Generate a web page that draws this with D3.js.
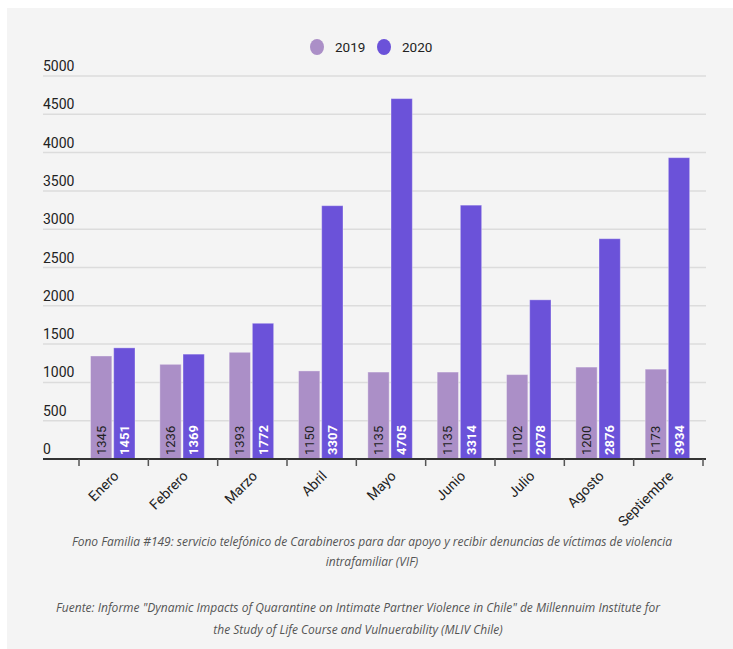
<!DOCTYPE html>
<html>
<head>
<meta charset="utf-8">
<script src="https://cdn.jsdelivr.net/npm/d3@7"></script>
<style>
  body { margin: 0; background: #fff; }
  svg text { font-family: Roboto, "Noto Sans", sans-serif; }
</style>
</head>
<body>
<div id="chart"></div>
<script>
// data
const months = ["Enero", "Febrero", "Marzo", "Abril", "Mayo", "Junio", "Julio", "Agosto", "Septiembre"];
const years = ["2019", "2020"];
const values2019 = [1345, 1236, 1393, 1150, 1135, 1135, 1102, 1200, 1173];
const values2020 = [1451, 1369, 1772, 3307, 4705, 3314, 2078, 2876, 3934];
const yTicks = [0, 500, 1000, 1500, 2000, 2500, 3000, 3500, 4000, 4500, 5000];
const captionLines = [
  "Fono Familia #149: servicio telefónico de Carabineros para dar apoyo y recibir denuncias de víctimas de violencia",
  "intrafamiliar (VIF)"
];
const sourceLines = [
  "Fuente: Informe \"Dynamic Impacts of Quarantine on Intimate Partner Violence in Chile\" de Millennuim Institute for",
  "the Study of Life Course and Vulnuerability (MLIV Chile)"
];

const color = d3.scaleOrdinal().domain(years).range(["#ab8fc7", "#6b52d9"]);

const rows = months.map((m, i) => ({month: m, "2019": values2019[i], "2020": values2020[i]}));

const width = 733, height = 649;
const svg = d3.select("#chart").append("svg")
  .attr("width", width)
  .attr("height", height);

// panel background
svg.append("rect")
  .attr("x", 7).attr("y", 8)
  .attr("width", 726).attr("height", 641)
  .attr("fill", "#f4f4f4");

const x0 = d3.scaleBand().domain(months).range([79, 703]).padding(0);
const x1 = d3.scaleBand().domain(years).range([11.5, 56]).paddingInner(0.08);
const y = d3.scaleLinear().domain([0, 5000]).range([459, 76]);

// grid + y labels
const grid = svg.append("g");
grid.selectAll("line")
  .data(yTicks.filter(d => d > 0))
  .join("line")
  .attr("x1", 43).attr("x2", 706)
  .attr("y1", d => y(d)).attr("y2", d => y(d))
  .attr("stroke", "#dcdcdc")
  .attr("stroke-width", 1.5);
grid.selectAll("text")
  .data(yTicks)
  .join("text")
  .attr("x", 43)
  .attr("y", d => y(d) - 5)
  .attr("font-size", "14px")
  .attr("fill", "#222")
  .text(d => d);

// bars
const groups = svg.append("g").selectAll("g")
  .data(rows)
  .join("g")
  .attr("transform", d => `translate(${x0(d.month)},0)`);

groups.selectAll("rect")
  .data(d => years.map(k => ({key: k, value: d[k]})))
  .join("rect")
  .attr("x", d => x1(d.key))
  .attr("y", d => y(d.value))
  .attr("width", x1.bandwidth())
  .attr("height", d => y(0) - y(d.value))
  .attr("fill", d => color(d.key))
  .attr("stroke", "rgba(255,255,255,0.35)")
  .attr("stroke-width", 1);

groups.selectAll("text")
  .data(d => years.map(k => ({key: k, value: d[k]})))
  .join("text")
  .attr("transform", d => `translate(${x1(d.key) + x1.bandwidth() / 2 + 4.5},${y(0) - 4}) rotate(-90)`)
  .attr("font-size", "13px")
  .attr("font-weight", d => d.key === "2020" ? "bold" : "normal")
  .attr("fill", d => d.key === "2020" ? "#fff" : "#222")
  .text(d => d.value);

// x axis
const axis = svg.append("g")
  .attr("transform", `translate(0,${y(0)})`)
  .call(d3.axisBottom(x0).tickSize(0).tickFormat(""));
axis.select(".domain").remove();
axis.append("line")
  .attr("x1", 43).attr("x2", 706)
  .attr("stroke", "#333").attr("stroke-width", 2);
axis.selectAll(".tk")
  .data(months.map(m => x0(m)).concat([x0.range()[1]]))
  .join("line")
  .attr("class", "tk")
  .attr("x1", d => d).attr("x2", d => d)
  .attr("y1", 0).attr("y2", 7)
  .attr("stroke", "#555").attr("stroke-width", 1.5);
axis.selectAll(".mlabel")
  .data(months)
  .join("text")
  .attr("class", "mlabel")
  .attr("transform", d => `translate(${x0(d) + x0.bandwidth() / 2 - 1},${11}) rotate(-45)`)
  .attr("text-anchor", "end")
  .attr("dy", "0.7em")
  .attr("font-size", "14px")
  .attr("fill", "#222")
  .text(d => d);

// legend
const legend = svg.append("g");
const legendX = [317, 384];
years.forEach((yr, i) => {
  legend.append("ellipse")
    .attr("cx", legendX[i]).attr("cy", 47)
    .attr("rx", 7).attr("ry", 8)
    .attr("fill", color(yr));
  legend.append("text")
    .attr("x", legendX[i] + 18).attr("y", 52)
    .attr("font-size", "13.5px")
    .attr("fill", "#222")
    .text(yr);
});

// captions
svg.append("g").selectAll("text")
  .data(captionLines)
  .join("text")
  .attr("x", 372)
  .attr("y", (d, i) => 546 + i * 20)
  .attr("text-anchor", "middle")
  .attr("font-size", "12px")
  .attr("font-style", "italic")
  .attr("fill", "#555")
  .style("font-family", "'Open Sans', 'Noto Sans', sans-serif")
  .text(d => d);

svg.append("g").selectAll("text")
  .data(sourceLines)
  .join("text")
  .attr("x", 358)
  .attr("y", (d, i) => 612 + i * 22)
  .attr("text-anchor", "middle")
  .attr("font-size", "12px")
  .attr("font-style", "italic")
  .attr("fill", "#555")
  .style("font-family", "'Open Sans', 'Noto Sans', sans-serif")
  .text(d => d);
</script>
</body>
</html>
